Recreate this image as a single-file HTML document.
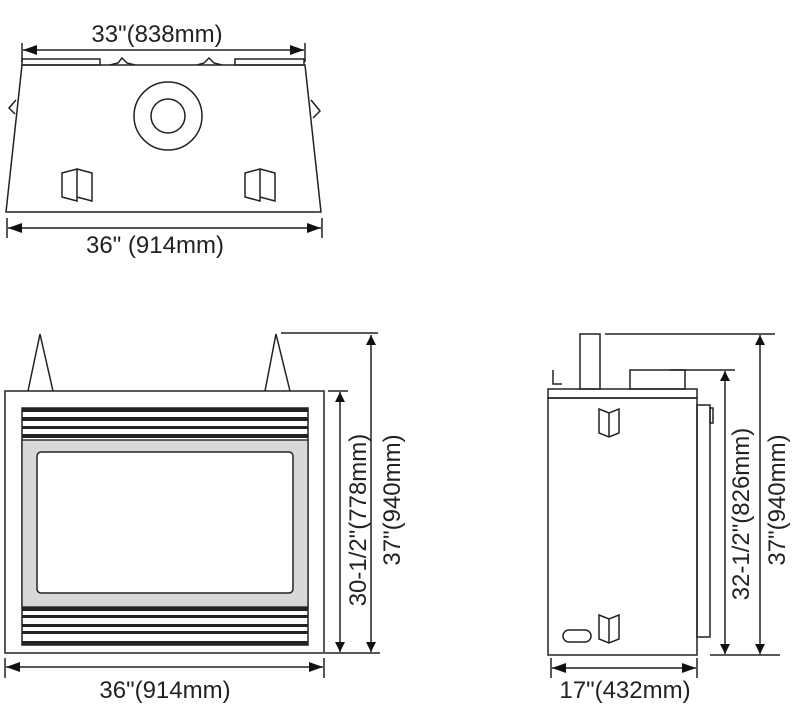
<!DOCTYPE html>
<html><head><style>body{margin:0;background:#fff}svg{display:block}</style></head><body>
<svg width="800" height="716" viewBox="0 0 800 716" xmlns="http://www.w3.org/2000/svg" font-family="Liberation Sans, sans-serif" fill="none" stroke="#222" stroke-width="1.5">
<defs>
<marker id="a" viewBox="0 0 10 10" refX="10" refY="5" markerWidth="10" markerHeight="10" markerUnits="userSpaceOnUse" orient="auto-start-reverse"><path d="M0,0 L10,5 L0,10z" fill="#111" stroke="none"/></marker>
<marker id="b" viewBox="0 0 14 10" refX="14" refY="5" markerWidth="14" markerHeight="10" markerUnits="userSpaceOnUse" orient="auto-start-reverse"><path d="M0,0 L14,5 L0,10z" fill="#111" stroke="none"/></marker>
<g id="br"><path d="M0,4 L10,8 L20,4 L20,28 L10,32 L0,28z M10,8 L10,32"/></g>
<g id="bt"><path d="M0,4 L15,0 L15,32 L0,28z M15,0 L30,4 L30,32 L15,28"/></g>
</defs>
<!-- TOP VIEW -->
<line x1="22" y1="43" x2="22" y2="62"/><line x1="305" y1="43" x2="305" y2="62"/>
<line x1="23" y1="50" x2="304" y2="50" marker-start="url(#b)" marker-end="url(#b)"/>
<text x="157" y="42" font-size="24" fill="#222" stroke="none" text-anchor="middle">33"(838mm)</text>
<rect x="22" y="59" width="78" height="6"/><rect x="235" y="59" width="69" height="6"/>
<path d="M110,65 L118,63 L122,58 L127,63 L135,65 M197,65 L204,63 L209,58 L214,63 L222,65"/>
<path d="M22,65 L305,65 L321,212 L6,212 Z"/>
<path d="M16,100 L9,108 L15,114 M311,100 L320,111 L313,118"/>
<circle cx="168" cy="116" r="34"/><circle cx="168" cy="116" r="17"/>
<use href="#bt" x="62" y="169"/><use href="#bt" x="245" y="169"/>
<line x1="7" y1="218" x2="7" y2="238"/><line x1="322" y1="218" x2="322" y2="238"/>
<line x1="8" y1="228" x2="321" y2="228" marker-start="url(#b)" marker-end="url(#b)"/>
<text x="155" y="253" font-size="24" fill="#222" stroke="none" text-anchor="middle">36" (914mm)</text>
<!-- FRONT VIEW -->
<path d="M28,391 L40,334 L53,391 M265,391 L276,334 L290,391"/>
<rect x="5" y="391" width="319" height="262"/>
<rect x="22" y="408" width="286" height="237"/>
<rect x="22" y="440" width="286" height="167" fill="#d8d8d8" stroke="#333"/>
<rect x="37" y="452" width="256" height="141" rx="4" fill="#fff"/>
<g fill="#222" stroke="none">
<rect x="22" y="408" width="286" height="4"/><rect x="22" y="417" width="286" height="4"/><rect x="22" y="426" width="286" height="3"/><rect x="22" y="434" width="286" height="4"/>
<rect x="22" y="607" width="286" height="4"/><rect x="22" y="615" width="286" height="3"/><rect x="22" y="624" width="286" height="3"/><rect x="22" y="631" width="286" height="3"/><rect x="22" y="641" width="286" height="4"/>
</g>
<line x1="5" y1="658" x2="5" y2="678"/><line x1="324" y1="658" x2="324" y2="678"/>
<line x1="6" y1="667" x2="323" y2="667" marker-start="url(#b)" marker-end="url(#b)"/>
<text x="165" y="698" font-size="24" fill="#222" stroke="none" text-anchor="middle">36"(914mm)</text>
<line x1="328" y1="391" x2="348" y2="391"/><line x1="281" y1="333" x2="378" y2="333"/><line x1="325" y1="653" x2="380" y2="653"/>
<line x1="340" y1="392" x2="340" y2="652" marker-start="url(#a)" marker-end="url(#a)"/>
<line x1="371" y1="335" x2="371" y2="652" marker-start="url(#a)" marker-end="url(#a)"/>
<text transform="translate(366,520) rotate(-90)" font-size="24" fill="#222" stroke="none" text-anchor="middle">30-1/2"(778mm)</text>
<text transform="translate(400,500) rotate(-90)" font-size="24" fill="#222" stroke="none" text-anchor="middle">37"(940mm)</text>
<!-- SIDE VIEW -->
<rect x="580" y="334" width="20" height="55"/>
<path d="M553,370 L553,384 L562,384"/>
<rect x="630" y="370" width="55" height="19"/>
<rect x="548" y="389" width="149" height="9"/>
<rect x="548" y="398" width="149" height="257"/>
<rect x="697" y="405" width="13" height="232"/>
<rect x="710" y="408" width="3" height="15"/>
<use href="#br" x="599" y="405"/>
<use href="#br" x="599" y="611"/>
<rect x="563" y="630" width="28" height="12" rx="6"/>
<line x1="605" y1="334" x2="775" y2="334"/><line x1="670" y1="370" x2="735" y2="370"/><line x1="710" y1="655" x2="780" y2="655"/>
<line x1="725" y1="371" x2="725" y2="654" marker-start="url(#a)" marker-end="url(#a)"/>
<line x1="760" y1="335" x2="760" y2="654" marker-start="url(#a)" marker-end="url(#a)"/>
<text transform="translate(749,514) rotate(-90)" font-size="24" fill="#222" stroke="none" text-anchor="middle">32-1/2"(826mm)</text>
<text transform="translate(785,500) rotate(-90)" font-size="24" fill="#222" stroke="none" text-anchor="middle">37"(940mm)</text>
<line x1="551" y1="658" x2="551" y2="678"/><line x1="697" y1="658" x2="697" y2="678"/>
<line x1="552" y1="668" x2="696" y2="668" marker-start="url(#b)" marker-end="url(#b)"/>
<text x="625" y="698" font-size="24" fill="#222" stroke="none" text-anchor="middle">17"(432mm)</text>
</svg>
</body></html>
